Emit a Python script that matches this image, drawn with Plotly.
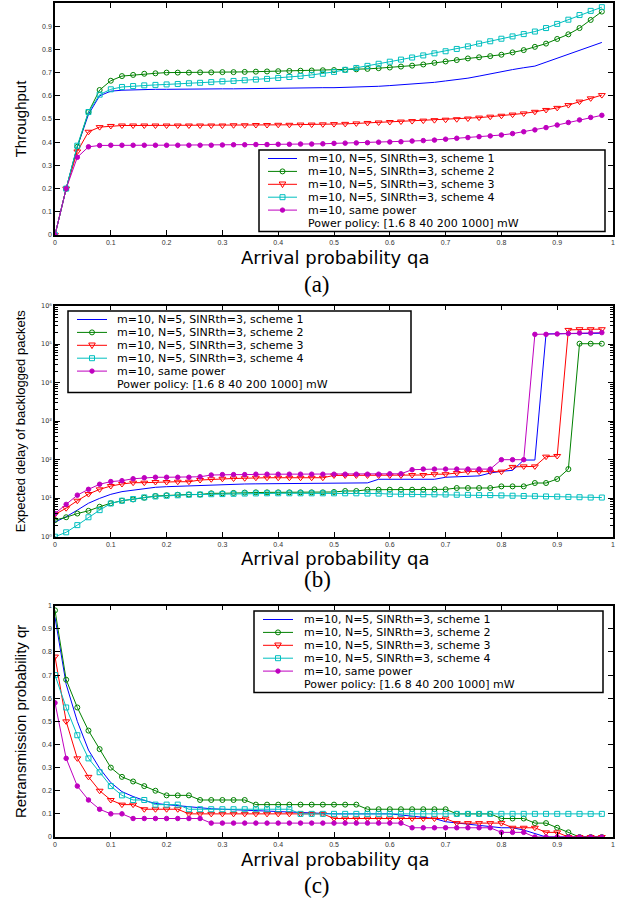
import plotly.graph_objects as go

# ---------------- data ----------------
qa = [0.00, 0.02, 0.04, 0.06, 0.08, 0.10, 0.12, 0.14, 0.16, 0.18,
      0.20, 0.22, 0.24, 0.26, 0.28, 0.30, 0.32, 0.34, 0.36, 0.38,
      0.40, 0.42, 0.44, 0.46, 0.48, 0.50, 0.52, 0.54, 0.56, 0.58,
      0.60, 0.62, 0.64, 0.66, 0.68, 0.70, 0.72, 0.74, 0.76, 0.78,
      0.80, 0.82, 0.84, 0.86, 0.88, 0.90, 0.92, 0.94, 0.96, 0.98]

series_names = ["m=10, N=5, SINRth=3, scheme 1",
                "m=10, N=5, SINRth=3, scheme 2",
                "m=10, N=5, SINRth=3, scheme 3",
                "m=10, N=5, SINRth=3, scheme 4",
                "m=10, same power"]
policy_note = "Power policy: [1.6 8 40 200 1000] mW"

# (a) throughput
thr_s1 = [0.00, 0.20, 0.38, 0.52, 0.60, 0.620, 0.624, 0.626, 0.627, 0.628,
          0.628, 0.629, 0.629, 0.630, 0.630, 0.630, 0.630, 0.631, 0.631, 0.632,
          0.632, 0.633, 0.634, 0.634, 0.635, 0.635, 0.636, 0.637, 0.639, 0.641,
          0.644, 0.647, 0.650, 0.654, 0.658, 0.664, 0.669, 0.676, 0.685, 0.695,
          0.705, 0.713, 0.721, 0.728, 0.745, 0.762, 0.779, 0.796, 0.813, 0.830]
thr_s2 = [0.00, 0.20, 0.38, 0.53, 0.625, 0.665, 0.685, 0.690, 0.695, 0.697,
          0.700, 0.700, 0.700, 0.701, 0.701, 0.702, 0.702, 0.703, 0.704, 0.705,
          0.706, 0.707, 0.708, 0.709, 0.710, 0.711, 0.712, 0.714, 0.716, 0.719,
          0.722, 0.726, 0.730, 0.735, 0.742, 0.748, 0.754, 0.761, 0.766, 0.771,
          0.777, 0.787, 0.797, 0.811, 0.825, 0.845, 0.865, 0.892, 0.927, 0.963]
thr_s3 = [0.00, 0.20, 0.36, 0.445, 0.465, 0.470, 0.472, 0.472, 0.472, 0.472,
          0.472, 0.472, 0.472, 0.472, 0.472, 0.472, 0.473, 0.473, 0.474, 0.474,
          0.475, 0.475, 0.476, 0.476, 0.477, 0.478, 0.479, 0.481, 0.483, 0.485,
          0.487, 0.489, 0.491, 0.493, 0.495, 0.497, 0.499, 0.502, 0.506, 0.510,
          0.514, 0.519, 0.524, 0.531, 0.539, 0.548, 0.560, 0.575, 0.589, 0.603]
thr_s4 = [0.00, 0.20, 0.385, 0.53, 0.605, 0.628, 0.638, 0.642, 0.645, 0.647,
          0.649, 0.651, 0.654, 0.656, 0.659, 0.662, 0.664, 0.667, 0.670, 0.673,
          0.677, 0.681, 0.685, 0.690, 0.695, 0.703, 0.712, 0.720, 0.729, 0.738,
          0.747, 0.756, 0.765, 0.774, 0.783, 0.792, 0.802, 0.813, 0.825, 0.835,
          0.846, 0.856, 0.866, 0.877, 0.892, 0.910, 0.928, 0.948, 0.966, 0.982]
thr_same = [0.00, 0.20, 0.335, 0.38, 0.386, 0.387, 0.387, 0.387, 0.387, 0.387,
            0.387, 0.387, 0.387, 0.387, 0.387, 0.388, 0.389, 0.389, 0.390, 0.390,
            0.391, 0.391, 0.392, 0.392, 0.393, 0.395, 0.396, 0.397, 0.398, 0.400,
            0.401, 0.402, 0.405, 0.407, 0.409, 0.413, 0.417, 0.420, 0.424, 0.427,
            0.431, 0.437, 0.445, 0.453, 0.463, 0.474, 0.485, 0.496, 0.507, 0.516]

# (b) expected delay of backlogged packets
dly_s1 = [2.4, 3.3, 4.9, 7.4, 9.9, 12.6, 14.8, 16.3, 18.0, 19.2,
          19.9, 20.5, 21.0, 21.5, 22.0, 22.5, 23.0, 23.4, 23.6, 23.8,
          24.0, 24.2, 24.4, 24.6, 24.8, 25.0, 25.0, 25.0, 25.0, 31.0,
          31.0, 31.0, 31.0, 31.0, 31.0, 35.0, 36.0, 37.0, 38.0, 45.0,
          50.0, 53.0, 98.0, 98.0, 1.85e5, 1.87e5, 1.9e5, 1.9e5, 1.9e5, 1.92e5]
dly_s2 = [2.7, 3.2, 4.0, 4.7, 6.0, 7.4, 8.6, 9.3, 10.3, 11.4,
          11.9, 12.3, 12.5, 12.5, 13.4, 13.4, 13.7, 14.0, 14.2, 14.2,
          14.2, 14.2, 14.2, 14.2, 14.2, 14.5, 15.4, 15.4, 16.6, 16.6,
          16.6, 16.6, 16.6, 16.6, 17.0, 17.0, 18.4, 18.4, 18.4, 18.4,
          20.3, 20.3, 20.3, 24.8, 24.8, 31.5, 57.0, 1.03e5, 1.03e5, 1.03e5]
dly_s3 = [3.8, 5.5, 8.6, 12.8, 17.0, 20.7, 23.4, 25.3, 25.3, 26.3,
          26.3, 26.8, 26.8, 29.7, 31.0, 32.0, 32.5, 33.0, 34.0, 34.0,
          34.0, 34.0, 34.0, 34.0, 34.0, 39.0, 39.0, 39.0, 39.0, 39.0,
          39.0, 39.0, 40.0, 40.0, 42.0, 42.0, 45.0, 49.0, 49.0, 49.0,
          49.0, 65.0, 67.0, 67.0, 120.0, 125.0, 2.35e5, 2.45e5, 2.45e5, 2.45e5]
dly_s4 = [1.0, 1.3, 2.0, 3.2, 4.9, 7.3, 8.6, 9.5, 10.5, 11.1,
          11.6, 11.9, 12.3, 12.5, 12.7, 12.8, 13.0, 13.2, 13.3, 13.4,
          13.4, 13.4, 13.4, 13.4, 13.4, 13.4, 13.4, 13.4, 13.2, 13.2,
          12.8, 12.7, 12.7, 12.6, 12.6, 12.5, 12.3, 12.2, 12.0, 12.0,
          11.8, 11.6, 11.4, 11.3, 11.1, 11.0, 10.8, 10.6, 10.4, 10.4]
dly_same = [4.0, 6.9, 12.0, 17.0, 23.0, 27.0, 28.5, 32.0, 34.0, 35.0,
            35.0, 35.0, 35.0, 36.0, 40.0, 41.0, 41.0, 41.0, 42.0, 42.0,
            42.0, 42.0, 42.0, 42.0, 42.0, 42.0, 42.0, 42.0, 42.0, 42.0,
            43.0, 43.0, 55.0, 57.0, 57.0, 57.0, 57.0, 57.0, 57.0, 57.0,
            100.0, 100.0, 100.0, 1.8e5, 1.8e5, 1.85e5, 1.9e5, 1.95e5, 1.95e5, 2.0e5]

# (c) retransmission probability
qr_s1 = [0.95, 0.66, 0.50, 0.376, 0.297, 0.235, 0.196, 0.175, 0.158, 0.145,
         0.140, 0.135, 0.130, 0.125, 0.122, 0.120, 0.118, 0.115, 0.113, 0.110,
         0.108, 0.106, 0.104, 0.102, 0.100, 0.100, 0.100, 0.100, 0.100, 0.100,
         0.100, 0.095, 0.090, 0.085, 0.080, 0.066, 0.060, 0.055, 0.050, 0.045,
         0.040, 0.040, 0.030, 0.015, 0.0, 0.0, 0.0, 0.0, 0.0, 0.0]
qr_s2 = [0.98, 0.68, 0.56, 0.46, 0.38, 0.30, 0.26, 0.24, 0.22, 0.20,
         0.18, 0.18, 0.18, 0.16, 0.16, 0.16, 0.16, 0.16, 0.14, 0.14,
         0.14, 0.14, 0.14, 0.14, 0.14, 0.14, 0.14, 0.14, 0.12, 0.12,
         0.12, 0.12, 0.12, 0.12, 0.12, 0.12, 0.10, 0.10, 0.10, 0.10,
         0.08, 0.08, 0.08, 0.06, 0.06, 0.04, 0.02, 0.0, 0.0, 0.0]
qr_s3 = [0.78, 0.50, 0.34, 0.26, 0.20, 0.16, 0.14, 0.14, 0.12, 0.12,
         0.12, 0.12, 0.10, 0.10, 0.10, 0.10, 0.10, 0.10, 0.10, 0.10,
         0.10, 0.10, 0.10, 0.10, 0.10, 0.08, 0.08, 0.08, 0.08, 0.08,
         0.08, 0.08, 0.08, 0.08, 0.08, 0.08, 0.06, 0.06, 0.06, 0.06,
         0.06, 0.04, 0.04, 0.04, 0.02, 0.02, 0.0, 0.0, 0.0, 0.0]
qr_s4 = [0.70, 0.56, 0.44, 0.34, 0.28, 0.22, 0.18, 0.16, 0.16, 0.14,
         0.14, 0.14, 0.12, 0.12, 0.12, 0.12, 0.12, 0.12, 0.12, 0.12,
         0.12, 0.12, 0.10, 0.10, 0.10, 0.10, 0.10, 0.10, 0.10, 0.10,
         0.10, 0.10, 0.10, 0.10, 0.10, 0.10, 0.10, 0.10, 0.10, 0.10,
         0.10, 0.10, 0.10, 0.10, 0.10, 0.10, 0.10, 0.10, 0.10, 0.10]
qr_same = [0.58, 0.34, 0.22, 0.16, 0.12, 0.10, 0.10, 0.08, 0.08, 0.08,
           0.08, 0.08, 0.08, 0.08, 0.06, 0.06, 0.06, 0.06, 0.06, 0.06,
           0.06, 0.06, 0.06, 0.06, 0.06, 0.06, 0.06, 0.06, 0.06, 0.06,
           0.06, 0.06, 0.04, 0.04, 0.04, 0.04, 0.04, 0.04, 0.04, 0.04,
           0.02, 0.02, 0.02, 0.0, 0.0, 0.0, 0.0, 0.0, 0.0, 0.0]

x_ticks = [0, 0.1, 0.2, 0.3, 0.4, 0.5, 0.6, 0.7, 0.8, 0.9, 1]
lin_y_ticks = [0, 0.1, 0.2, 0.3, 0.4, 0.5, 0.6, 0.7, 0.8, 0.9, 1]
log_y_ticks = [1, 10, 100, 1000, 10000, 100000, 1000000]
log_y_text = ["10\u2070", "10\u00b9", "10\u00b2", "10\u00b3", "10\u2074", "10\u2075", "10\u2076"]

x_title = "Arrival probability qa"
y_titles = ["Throughput", "Expected delay of backlogged packets", "Retransmission probability qr"]
captions = ["(a)", "(b)", "(c)"]

# ---------------- styling ----------------
W, H = 632, 904
ML, MR, MT, MB = 55, 19, 3, 67
PW, PH = W - ML - MR, H - MT - MB


def px(x):
    return (x - ML) / PW


def py(y):
    return (H - MB - y) / PH


styles = [
    dict(color="#0000FF", symbol=None, size=0),
    dict(color="#008000", symbol="circle-open", size=5),
    dict(color="#FF0000", symbol="triangle-down-open", size=6),
    dict(color="#00BFBF", symbol="square-open", size=5),
    dict(color="#BF00BF", symbol="circle", size=4.5),
]

ROW = 12.9
panels = [
    dict(ys=[thr_s1, thr_s2, thr_s3, thr_s4, thr_same], top=3, bottom=235, log=False,
         legend=dict(x0=259, x1=605, top=150, s0=268, s1=297, tx=307),
         ytitle_size=15, caption_y=284),
    dict(ys=[dly_s1, dly_s2, dly_s3, dly_s4, dly_same], top=305.7, bottom=536.7, log=True,
         legend=dict(x0=68, x1=411, top=311, s0=77, s1=107, tx=115.7),
         ytitle_size=13, caption_y=580),
    dict(ys=[qr_s1, qr_s2, qr_s3, qr_s4, qr_same], top=605.7, bottom=837, log=False,
         legend=dict(x0=254, x1=603, top=611, s0=263, s1=293, tx=302.7),
         ytitle_size=15, caption_y=885),
]

fig = go.Figure()
shapes, annotations = [], []
layout = dict(width=W, height=H, margin=dict(l=ML, r=MR, t=MT, b=MB),
              paper_bgcolor="white", plot_bgcolor="white", showlegend=False)

axis_common = dict(showline=True, linecolor="black", linewidth=1.5, mirror="ticks",
                   ticks="inside", ticklen=5, tickwidth=1, tickcolor="black",
                   showgrid=False, zeroline=False, automargin=False,
                   tickfont=dict(family="Liberation Sans", size=7, color="#333333"))

LEG_FONT = dict(family="DejaVu Sans", size=11, color="black")
XT_FONT = dict(family="DejaVu Sans", size=18, color="black")
for i, p in enumerate(panels):
    k = "" if i == 0 else str(i + 1)
    xa, ya = "x" + k, "y" + k
    for j, yv in enumerate(p["ys"]):
        st = styles[j]
        tr = dict(x=qa, y=yv, xaxis=xa, yaxis=ya, name=series_names[j],
                  line=dict(color=st["color"], width=1), showlegend=False)
        if st["symbol"]:
            tr.update(mode="lines+markers",
                      marker=dict(symbol=st["symbol"], size=st["size"], color=st["color"],
                                  line=dict(color=st["color"], width=1)))
        else:
            tr.update(mode="lines")
        fig.add_trace(go.Scatter(**tr))

    dom = [py(p["bottom"]), py(p["top"])]
    xaxis = dict(axis_common, domain=[0, 1], range=[0, 1], tickvals=x_ticks, anchor=ya)
    if p["log"]:
        minor_vals = [m * 10 ** e for e in range(6) for m in range(2, 10)]
        yaxis = dict(axis_common, domain=dom, type="log", range=[0, 6],
                     tickvals=log_y_ticks, ticktext=log_y_text, anchor=xa,
                     tickfont=dict(family="DejaVu Sans", size=6.5, color="#333333"),
                     minor=dict(ticks="inside", ticklen=3, tickcolor="black",
                                tickvals=minor_vals, showgrid=False))
    else:
        yaxis = dict(axis_common, domain=dom, range=[0, 1], tickvals=lin_y_ticks, anchor=xa)
    yaxis["title"] = dict(text=y_titles[i], standoff=12,
                          font=dict(family="Liberation Sans", size=p["ytitle_size"], color="black"))
    layout["xaxis" + k] = xaxis
    layout["yaxis" + k] = yaxis

    # x-axis title, kept just clear of the tick labels
    annotations.append(dict(xref="paper", yref="paper", x=px(334.5), y=py(p["bottom"] + 22),
                            xanchor="center", yanchor="middle", showarrow=False, text=x_title,
                            borderpad=0, font=XT_FONT))

    # compact legend box
    lg = p["legend"]
    row0 = lg["top"] + 8.5
    bottom = row0 + 5 * ROW + 8.5
    shapes.append(dict(type="rect", xref="paper", yref="paper", x0=px(lg["x0"]), x1=px(lg["x1"]),
                       y0=py(bottom), y1=py(lg["top"]), line=dict(color="black", width=1.5),
                       fillcolor="white", layer="above"))
    for j in range(6):
        ry = row0 + j * ROW
        text = series_names[j] if j < 5 else policy_note
        annotations.append(dict(xref="paper", yref="paper", x=px(lg["tx"]), y=py(ry),
                                xanchor="left", yanchor="middle", showarrow=False, text=text,
                                borderpad=0, font=LEG_FONT))
        if j < 5:
            st = styles[j]
            shapes.append(dict(type="line", xref="paper", yref="paper",
                               x0=px(lg["s0"]), x1=px(lg["s1"]), y0=py(ry), y1=py(ry),
                               line=dict(color=st["color"], width=1), layer="above"))
            cx, cy = px((lg["s0"] + lg["s1"]) / 2), py(ry)
            base = dict(xref="paper", yref="paper", xsizemode="pixel", ysizemode="pixel",
                        xanchor=cx, yanchor=cy, layer="above",
                        line=dict(color=st["color"], width=1))
            if st["symbol"] == "circle-open":
                shapes.append(dict(base, type="circle", x0=-2.5, x1=2.5, y0=-2.5, y1=2.5))
            elif st["symbol"] == "triangle-down-open":
                shapes.append(dict(base, type="path", path="M -3.3,2.3 L 3.3,2.3 L 0,-3.3 Z"))
            elif st["symbol"] == "square-open":
                shapes.append(dict(base, type="rect", x0=-2.5, x1=2.5, y0=-2.5, y1=2.5))
            elif st["symbol"] == "circle":
                shapes.append(dict(base, type="circle", x0=-2.2, x1=2.2, y0=-2.2, y1=2.2,
                                   fillcolor=st["color"]))

    annotations.append(dict(xref="paper", yref="paper", x=px(317), y=py(p["caption_y"]),
                            xanchor="center", yanchor="middle", showarrow=False,
                            text=captions[i], borderpad=0,
                            font=dict(family="Liberation Serif", size=23, color="black")))

layout["shapes"] = shapes
layout["annotations"] = annotations
fig.update_layout(**layout)
fig.write_html("out.html", config={"displayModeBar": False},
               post_script="document.body.style.margin='0';")
